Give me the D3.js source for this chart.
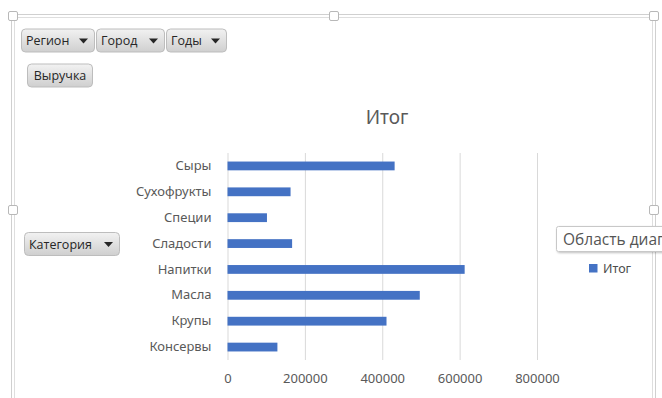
<!DOCTYPE html>
<meta charset="utf-8">
<style>
    body { margin: 0; background: #fff; }
    .btn-text { font-family: "Open Sans", sans-serif; font-size: 12.5px; fill: #262626; }
    .chart-text { font-family: "Noto Sans", sans-serif; fill: #595959; }
    .grid line { stroke: #d9d9d9; }
    .grid .domain { display: none; }
</style>
<body>
<script src="https://d3js.org/d3.v7.min.js"></script>
<script>
    const categories = ["Сыры", "Сухофрукты", "Специи", "Сладости", "Напитки", "Масла", "Крупы", "Консервы"];
    const totals = [432000, 163000, 102000, 167000, 613000, 497000, 411000, 129000];
    const xTicks = [0, 200000, 400000, 600000, 800000];
    const filterButtons = ["Регион", "Город", "Годы"];

    const W = 662, H = 398;
    const svg = d3.select("body").append("svg")
        .attr("width", W)
        .attr("height", H);

    // button gradient
    const defs = svg.append("defs");
    const grad = defs.append("linearGradient").attr("id", "btnGrad")
        .attr("x1", 0).attr("y1", 0).attr("x2", 0).attr("y2", 1);
    grad.append("stop").attr("offset", "0%").attr("stop-color", "#f2f2f2");
    grad.append("stop").attr("offset", "100%").attr("stop-color", "#cfcfcf");
    const shadow = defs.append("filter").attr("id", "shadow")
        .attr("x", "-10%").attr("y", "-20%").attr("width", "130%").attr("height", "160%");
    shadow.append("feDropShadow").attr("dx", 1).attr("dy", 1).attr("stdDeviation", 1.2)
        .attr("flood-color", "#000").attr("flood-opacity", 0.25);
    defs.append("clipPath").attr("id", "tipClip")
        .append("rect").attr("x", 0).attr("y", 0).attr("width", W).attr("height", H);

    // chart frame (selected, double line)
    const frame = svg.append("g");
    [[11.5, 14.5, 655.5, 398], [14.5, 17.5, 652.5, 398]].forEach(function(f, i) {
        frame.append("path")
            .attr("d", "M" + f[0] + "," + f[3] + "V" + f[1] + "H" + f[2] + "V" + f[3])
            .attr("fill", "none")
            .attr("stroke", i == 0 ? "#d0d0d0" : "#dedede");
    });
    [[13, 16], [334, 16], [654, 16], [13, 210], [654, 210]].forEach(function(p) {
        frame.append("rect")
            .attr("x", p[0] - 4.5).attr("y", p[1] - 4.5)
            .attr("width", 9).attr("height", 9)
            .attr("rx", 1.5)
            .attr("fill", "#fff")
            .attr("stroke", "#b8b8b8");
    });

    // pivot buttons
    function button(x, y, w, label, arrow) {
        const g = svg.append("g").attr("transform", "translate(" + x + "," + y + ")");
        g.append("rect")
            .attr("x", 0.5).attr("y", 0.5)
            .attr("width", w).attr("height", 23)
            .attr("rx", 4)
            .attr("fill", "url(#btnGrad)")
            .attr("stroke", "#bdbdbd");
        g.append("text")
            .attr("class", "btn-text")
            .attr("x", arrow ? 5 : (w / 2 + 0.5))
            .attr("y", 16.5)
            .attr("text-anchor", arrow ? "start" : "middle")
            .text(label);
        if (arrow) {
            g.append("path")
                .attr("d", "M" + (w - 15) + ",10h9l-4.5,5z")
                .attr("fill", "#262626");
        }
    }
    let bx = 21;
    const widths = [73, 68, 60];
    filterButtons.forEach(function(name, i) {
        button(bx, 28.5, widths[i], name, true);
        bx += widths[i] + 2;
    });
    button(27, 63.5, 65, "Выручка", false);
    button(24, 232, 95, "Категория", true);

    // plot
    const x = d3.scaleLinear()
        .domain([0, 800000])
        .range([227.5, 537]);
    const y = d3.scaleBand()
        .domain(categories)
        .range([153, 360])
        .paddingInner(0.66)
        .paddingOuter(0.33);

    svg.append("g")
        .attr("class", "grid")
        .attr("transform", "translate(0,360)")
        .call(d3.axisBottom(x).tickValues(xTicks).tickSize(-207).tickFormat(""));

    svg.append("g")
        .selectAll("rect")
        .data(totals)
        .join("rect")
        .attr("x", x(0))
        .attr("y", function(d, i) { return y(categories[i]); })
        .attr("width", function(d) { return x(d) - x(0); })
        .attr("height", y.bandwidth())
        .attr("fill", "#4472c4");

    const xAxis = svg.append("g")
        .attr("transform", "translate(0,360)")
        .call(d3.axisBottom(x).tickValues(xTicks).tickSize(0).tickPadding(14).tickFormat(d3.format("d")));
    xAxis.select(".domain").remove();
    xAxis.selectAll("text").attr("class", "chart-text").style("font-size", "13px").attr("fill", null);

    const yAxis = svg.append("g")
        .attr("transform", "translate(" + x(0) + ",0)")
        .call(d3.axisLeft(y).tickSize(0).tickPadding(16));
    yAxis.select(".domain").remove();
    yAxis.selectAll("text").attr("class", "chart-text").style("font-size", "13px").attr("fill", null);

    svg.append("text")
        .attr("class", "chart-text")
        .attr("x", 387)
        .attr("y", 124)
        .attr("text-anchor", "middle")
        .style("font-size", "19px")
        .text("Итог");

    // legend
    svg.append("rect")
        .attr("x", 589).attr("y", 264)
        .attr("width", 8.5).attr("height", 8.5)
        .attr("fill", "#4472c4");
    svg.append("text")
        .attr("class", "chart-text")
        .attr("x", 603).attr("y", 273)
        .style("font-size", "12.5px")
        .style("fill", "#4d4d4d")
        .text("Итог");

    // tooltip (runs off the right edge, as in the original screenshot)
    const tip = svg.append("g").attr("clip-path", "url(#tipClip)");
    tip.append("rect")
        .attr("x", 556.5).attr("y", 226.5)
        .attr("width", 140).attr("height", 25)
        .attr("rx", 2)
        .attr("fill", "#fff")
        .attr("stroke", "#c8c8c8")
        .attr("filter", "url(#shadow)");
    tip.append("text")
        .attr("class", "btn-text")
        .attr("x", 563).attr("y", 245)
        .style("font-size", "15.5px")
        .style("fill", "#555")
        .text("Область диаграммы");
</script>
</body>
